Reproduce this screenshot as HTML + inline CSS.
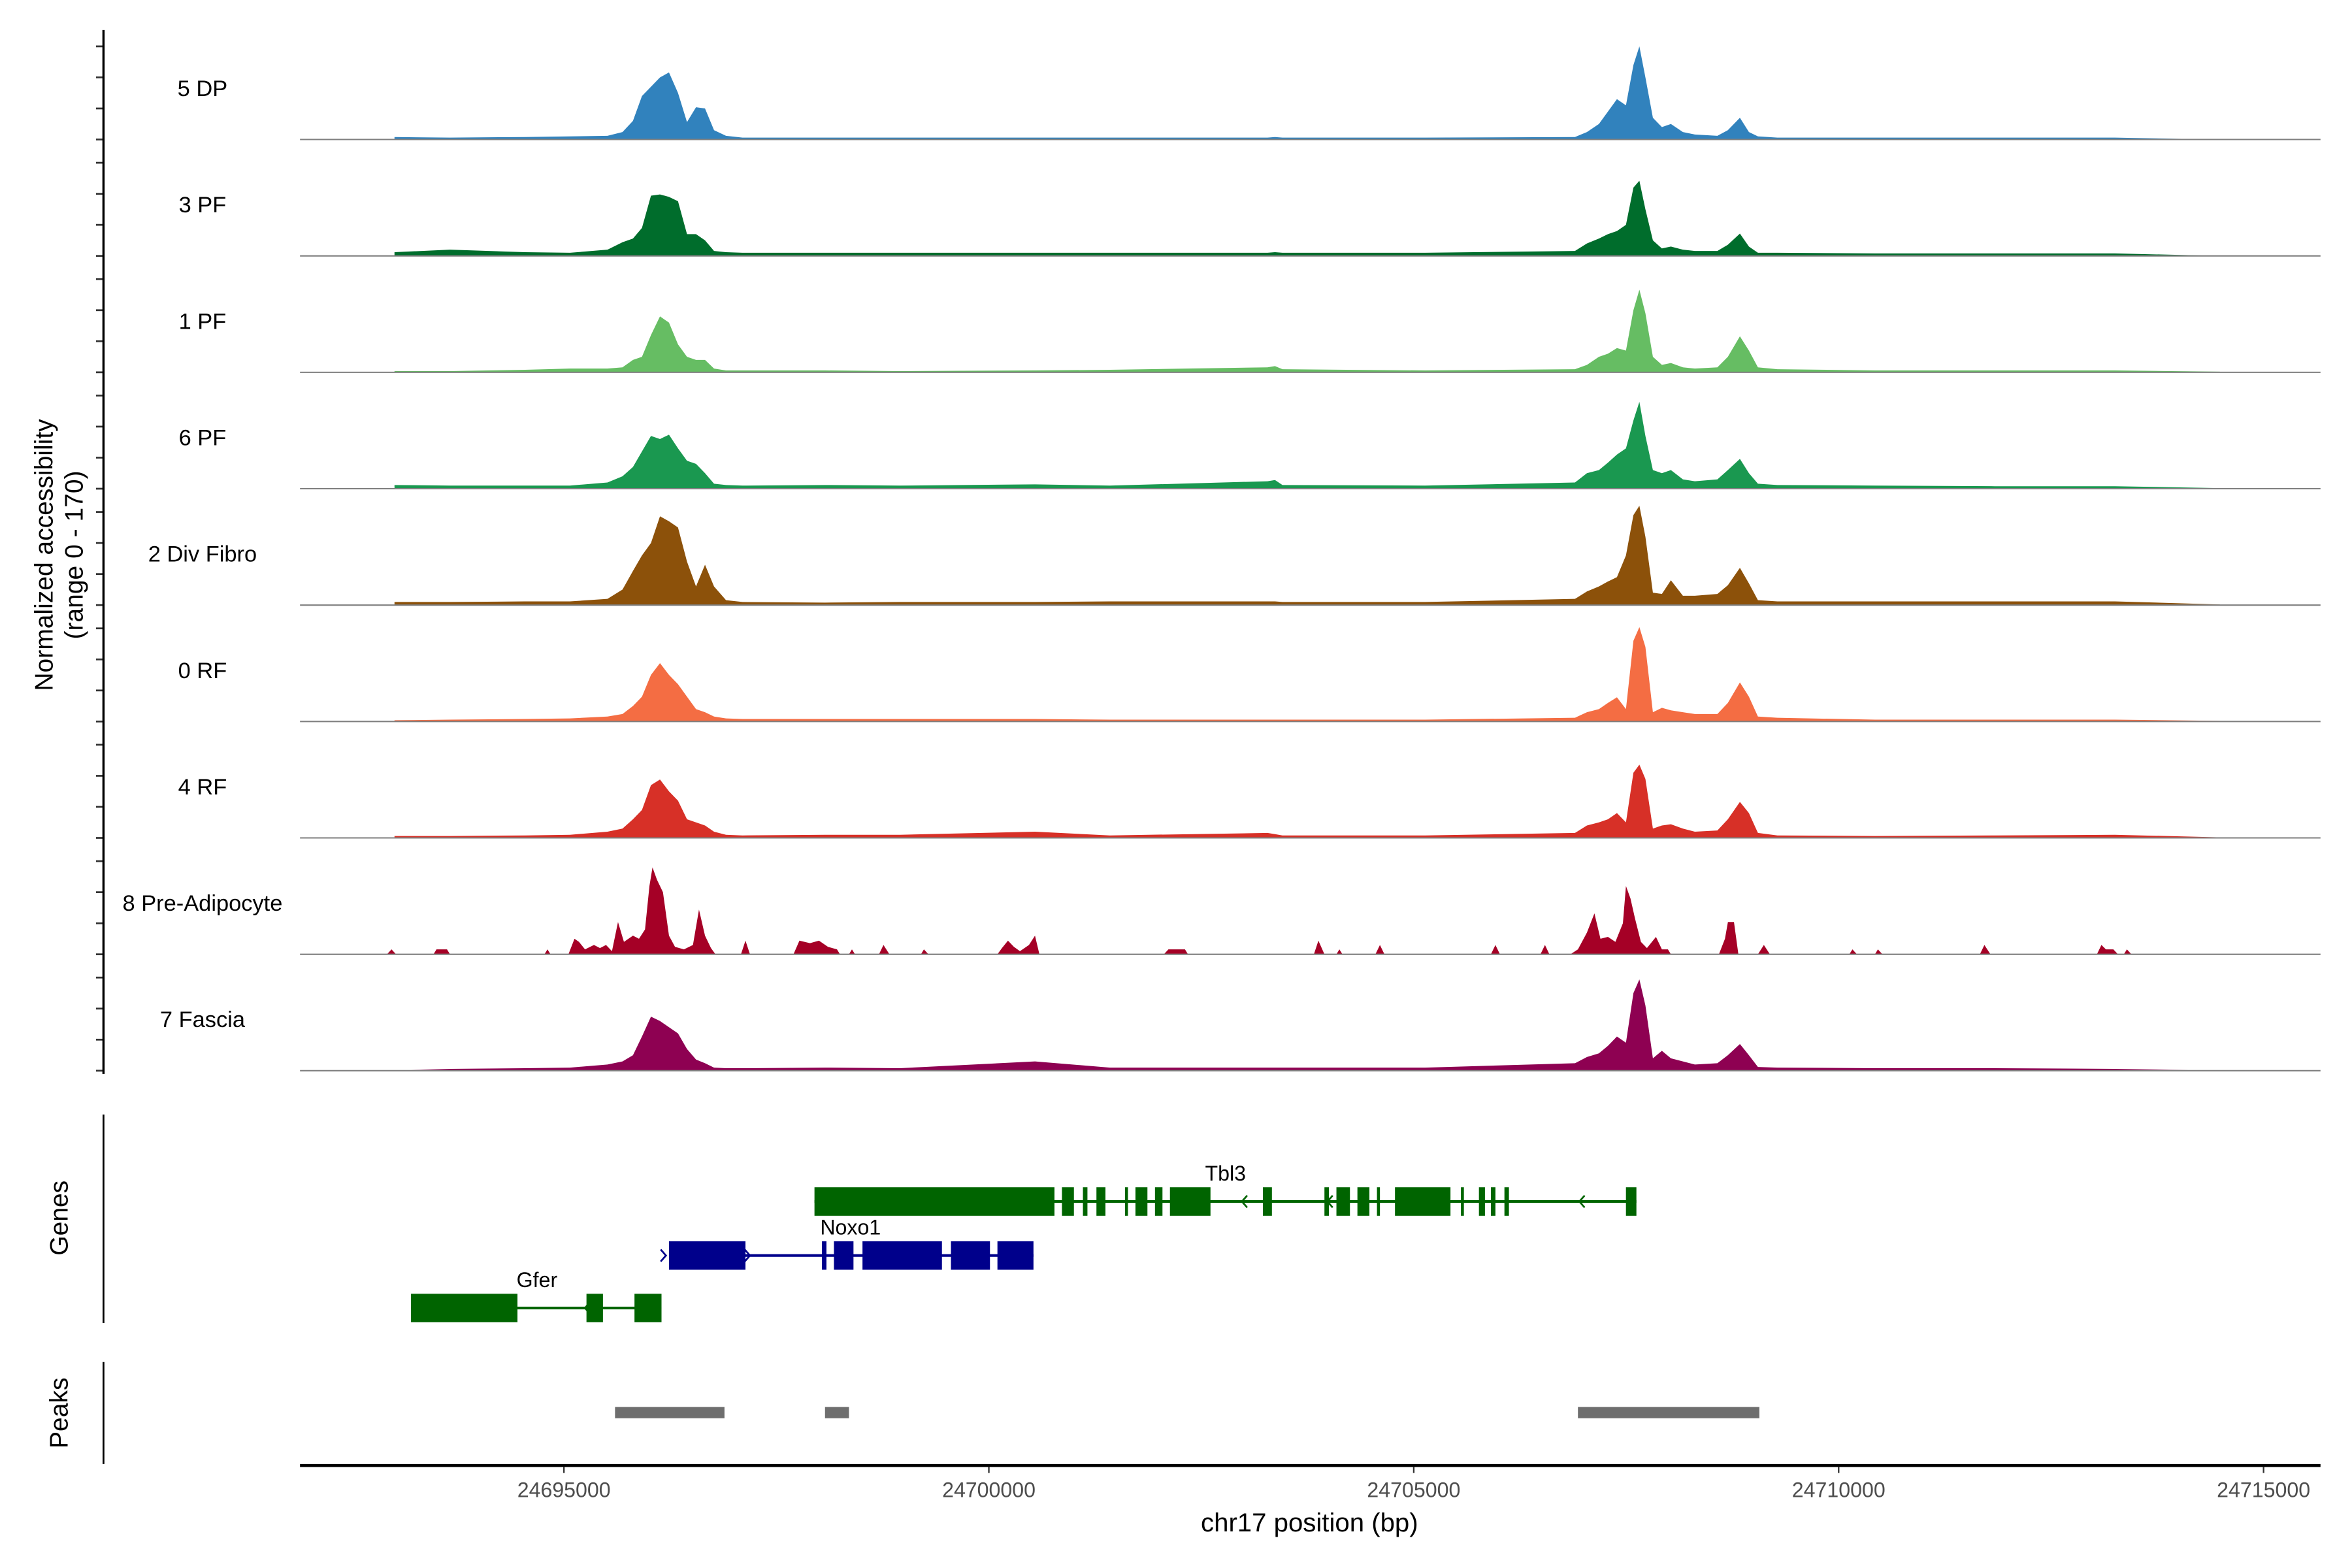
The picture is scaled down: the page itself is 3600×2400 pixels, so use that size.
<!DOCTYPE html>
<html><head><meta charset="utf-8"><style>
html,body{margin:0;padding:0;background:#fff}
svg{display:block;font-family:"Liberation Sans",sans-serif}
</style></head><body>
<svg id="chart" width="3600" height="2400" viewBox="0 0 1568 1045.33" preserveAspectRatio="none" xmlns="http://www.w3.org/2000/svg">
<g id="tracks"></g>
<g id="genes"></g>
<g id="peaks"></g>
<g id="axes"></g>
<text transform="translate(35,370) rotate(-90)" text-anchor="middle" font-size="17">Normalized accessibility</text>
<text transform="translate(55,370) rotate(-90)" text-anchor="middle" font-size="17">(range 0 - 170)</text>
<text transform="translate(45,812) rotate(-90)" text-anchor="middle" font-size="17">Genes</text>
<text transform="translate(45,942) rotate(-90)" text-anchor="middle" font-size="17">Peaks</text>
<text x="873" y="1021" text-anchor="middle" font-size="17.5">chr17 position (bp)</text>
</svg>
<script>
const trackNames = ["5 DP","3 PF","1 PF","6 PF","2 Div Fibro","0 RF","4 RF","8 Pre-Adipocyte","7 Fascia"];
const gridPos = [24693006,24693659,24694542,24695071,24695512,24695689,24695812,24695918,24696024,24696130,24696236,24696342,24696448,24696554,24696660,24696766,24696907,24697101,24698072,24698954,24700543,24701425,24703279,24703367,24703455,24705132,24706897,24707038,24707179,24707285,24707391,24707497,24707585,24707655,24707726,24707814,24707920,24708026,24708167,24708308,24708573,24708696,24708838,24708944,24709050,24709279,24710427,24711839,24713250,24714486];
const valsDP5 = [4,3,4,5,6,12,30,70,85,100,108,75,28,52,50,15,6,3,3,3,3,3,3,4,3,3,4,12,25,45,65,55,120,150,100,35,20,25,12,8,6,15,35,12,5,3,3,3,3,0];
const valsPF3 = [6,10,6,5,10,22,28,45,97,99,95,88,35,35,25,8,6,5,5,5,5,5,5,6,5,5,8,20,28,35,40,50,110,121,75,25,12,15,10,8,8,18,36,15,5,5,4,4,4,0];
const valsPF1 = [2,2,4,6,6,8,20,25,60,90,80,45,25,20,20,6,3,3,3,2,3,4,8,10,5,3,5,12,25,30,39,35,100,133,95,25,12,15,8,6,8,25,58,35,8,5,3,3,3,1];
const valsPF6 = [6,5,5,5,10,20,35,60,85,80,87,65,45,40,25,8,6,5,6,5,7,5,12,14,6,5,10,25,30,42,55,65,110,140,85,30,25,30,15,12,15,30,48,25,8,6,5,4,4,1];
const valsDiv2 = [5,5,6,6,10,25,55,80,100,143,135,125,70,30,65,30,8,5,4,5,5,6,6,6,5,5,10,22,30,38,45,80,145,160,110,20,18,40,15,15,18,32,60,35,8,6,6,6,6,1];
const valsRF0 = [2,3,4,5,8,12,25,40,75,94,75,60,40,20,15,8,5,4,4,4,4,3,3,3,3,3,6,15,20,30,39,20,130,152,120,15,22,18,15,12,12,30,63,40,8,6,3,3,3,1];
const valsRF4 = [3,3,4,5,10,15,30,45,85,94,75,60,30,25,20,10,5,4,5,5,10,4,8,6,4,4,8,20,25,30,40,25,105,118,95,15,20,22,15,10,12,30,58,40,8,4,3,4,5,1];
const valsFascia7 = [0,3,4,5,10,15,25,55,87,80,70,60,35,18,12,5,4,4,5,4,15,5,5,5,5,5,12,22,28,40,55,45,125,147,105,20,32,20,15,10,12,25,43,25,6,5,4,4,3,0];
const preAdipoPos = [24692918,24692971,24693024,24693465,24693500,24693624,24693659,24694771,24694806,24694842,24695053,24695124,24695177,24695248,24695353,24695424,24695495,24695565,24695636,24695706,24695812,24695883,24695954,24696006,24696042,24696095,24696165,24696236,24696307,24696412,24696518,24696589,24696660,24696730,24696783,24697083,24697136,24697189,24697701,24697771,24697895,24698001,24698107,24698213,24698248,24698354,24698389,24698425,24698707,24698760,24698830,24699201,24699236,24699289,24700101,24700154,24700225,24700295,24700366,24700472,24700543,24700595,24702060,24702113,24702308,24702343,24703825,24703878,24703949,24704090,24704125,24704161,24704549,24704602,24704655,24705908,24705961,24706014,24706491,24706544,24706596,24706844,24706932,24707038,24707126,24707197,24707285,24707373,24707461,24707497,24707550,24707603,24707673,24707744,24707850,24707920,24707991,24708026,24708591,24708662,24708697,24708768,24708820,24709050,24709120,24709191,24710126,24710162,24710215,24710427,24710462,24710515,24711662,24711715,24711786,24713039,24713092,24713145,24713233,24713286,24713356,24713392,24713445];
const preAdipoVals = [0,8,0,0,8,8,0,0,8,0,0,25,20,8,15,10,15,5,52,20,30,25,40,110,140,120,100,30,12,8,15,72,30,10,0,0,22,0,0,22,18,22,12,8,0,0,8,0,0,15,0,0,8,0,0,10,22,12,5,15,30,0,0,8,8,0,0,22,0,0,8,0,0,15,0,0,15,0,0,15,0,0,8,35,66,25,28,20,50,110,90,58,20,10,28,8,8,0,0,25,52,52,0,0,15,0,0,8,0,0,8,0,0,15,0,0,15,8,8,0,0,8,0];
const trackColors = ["#3182bd","#006d2c","#66bd63","#1a9850","#8c510a","#f46d43","#d73027","#a50026","#8e0152"];
const yTickVals = [0,50,100,150];
const xTickVals = [24695000,24700000,24705000,24710000,24715000];
const xTickLabels = ["24695000","24700000","24705000","24710000","24715000"];
const tbl3Exons = [[24697948,24700772],[24700860,24701001],[24701107,24701160],[24701266,24701372],[24701602,24701637],[24701725,24701866],[24701955,24702043],[24702131,24702608],[24703225,24703331],[24703949,24704002],[24704090,24704249],[24704337,24704478],[24704567,24704602],[24704779,24705432],[24705555,24705590],[24705767,24705838],[24705908,24705961],[24706067,24706120],[24707497,24707620]];
const tbl3Arrows = [24702978,24703984,24706949];
const noxo1Exons = [[24696236,24697136],[24698036,24698089],[24698177,24698407],[24698513,24699448],[24699554,24700013],[24700101,24700525]];
const noxo1Arrows = [24696200,24697189];
const gferExons = [[24693200,24694453],[24695265,24695459],[24695830,24696148]];
const gferArrows = [24695247];
const peakRegions = [[24695601,24696889],[24698072,24698354],[24706932,24709067]];

const NS="http://www.w3.org/2000/svg";
const X0=200,X1=1547,D0=24691894,D1=24715670;
function xs(bp){return X0+(bp-D0)/(D1-D0)*(X1-X0);}
const BASE0=93,STEP=77.6,UNIT=0.414;
function ys(t,v){return BASE0+t*STEP-v*UNIT;}
function mk(tag,attrs,parent){const e=document.createElementNS(NS,tag);for(const k in attrs)e.setAttribute(k,attrs[k]);parent.appendChild(e);return e;}

const tracks=document.getElementById('tracks');
const series=[[gridPos,valsDP5],[gridPos,valsPF3],[gridPos,valsPF1],[gridPos,valsPF6],[gridPos,valsDiv2],[gridPos,valsRF0],[gridPos,valsRF4],[preAdipoPos,preAdipoVals],[gridPos,valsFascia7]];
series.forEach((s,t)=>{
  const pos=s[0],vals=s[1],b=ys(t,0);
  let d="M"+xs(pos[0]).toFixed(2)+","+b;
  for(let i=0;i<pos.length;i++)d+=" L"+xs(pos[i]).toFixed(2)+","+ys(t,vals[i]).toFixed(2);
  d+=" L"+xs(pos[pos.length-1]).toFixed(2)+","+b+" Z";
  const p=mk('path',{d:d,fill:trackColors[t]},tracks);
  
  
  const bl=mk('line',{x1:X0,x2:X1,y1:b,y2:b,stroke:'#7f7f7f','stroke-width':0.9},tracks);
  
  
  const lb=mk('text',{x:135,y:b-29,'text-anchor':'middle','font-size':15},tracks);
  lb.textContent=trackNames[t];
  
  
  yTickVals.forEach(v=>{
    const tk=mk('line',{x1:64,x2:69,y1:ys(t,v),y2:ys(t,v),stroke:'#333','stroke-width':1.2},tracks);
    
    
  });
});
const axes=document.getElementById('axes');
const ya=mk('line',{x1:69,x2:69,y1:20,y2:716,stroke:'#000','stroke-width':1.5},axes);


const ga=mk('line',{x1:69,x2:69,y1:743,y2:882,stroke:'#000','stroke-width':1.2},axes);


const pa=mk('line',{x1:69,x2:69,y1:908,y2:976,stroke:'#000','stroke-width':1.2},axes);


const xa=mk('line',{x1:X0,x2:X1,y1:977,y2:977,stroke:'#000','stroke-width':2},axes);


xTickVals.forEach((v,i)=>{
  const tk=mk('line',{x1:xs(v),x2:xs(v),y1:978,y2:982,stroke:'#333','stroke-width':1},axes);
  
  
  const tl=mk('text',{x:xs(v),y:998,'text-anchor':'middle','font-size':14,fill:'#4d4d4d'},axes);
  tl.textContent=xTickLabels[i];
  
  
});
const genes=document.getElementById('genes');
function drawGene(name,exons,arrows,dir,cy,color,label){
  const g=mk('g',{},genes);
  
  
  const x0=xs(exons[0][0]),x1=xs(exons[exons.length-1][1]);
  mk('line',{x1:x0,x2:x1,y1:cy,y2:cy,stroke:color,'stroke-width':1.8},g);
  exons.forEach(e=>{
    const r=mk('rect',{x:xs(e[0]),y:cy-9.5,width:Math.max(1.5,xs(e[1])-xs(e[0])),height:19,fill:color},g);
    
    
  });
  arrows.forEach(a=>{
    const ax=xs(a),s=dir<0?3.5:-3.5;
    mk('polyline',{points:(ax+s)+","+(cy-4)+" "+ax+","+cy+" "+(ax+s)+","+(cy+4),fill:'none',stroke:color,'stroke-width':1.2},g);
  });
  const t=mk('text',{x:label[0],y:cy-14,'text-anchor':'middle','font-size':14},g);
  t.textContent=name;
  
  
}
drawGene('Tbl3',tbl3Exons,tbl3Arrows,-1,801,'#006400',[817]);
drawGene('Noxo1',noxo1Exons,noxo1Arrows,1,837,'#00008b',[567]);
drawGene('Gfer',gferExons,gferArrows,-1,872,'#006400',[358]);
const peaks=document.getElementById('peaks');
peakRegions.forEach(p=>{
  const r=mk('rect',{x:xs(p[0]),y:938,width:xs(p[1])-xs(p[0]),height:7.5,fill:'#6e6e6e'},peaks);
  
  
});
</script>
</body></html>
